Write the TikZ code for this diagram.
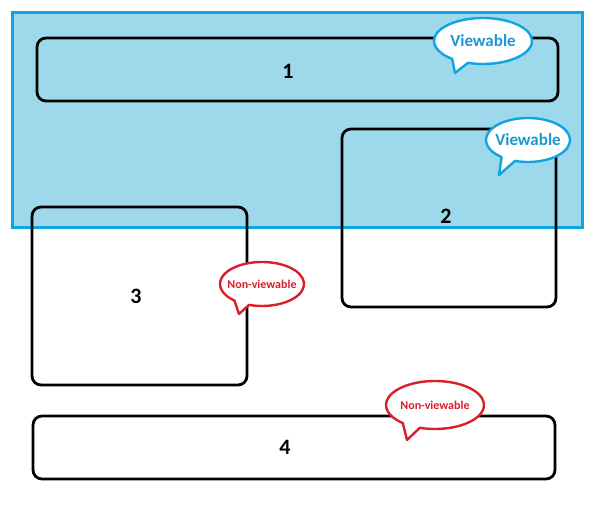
\documentclass[tikz,border=0pt]{standalone}
\usepackage{fontspec}
\setmainfont{Carlito}
\definecolor{vblue}{HTML}{0EA5E0}
\definecolor{vfill}{HTML}{9DD9EA}
\definecolor{vtext}{HTML}{1E96D2}
\definecolor{nred}{HTML}{D7202C}
\tikzset{
  panebox/.style={draw=black,line width=2.8pt,rounded corners=9pt},
  numlabel/.style={font=\bfseries\fontsize{22}{22}\selectfont},
  viewtext/.style={text=vtext,font=\bfseries\fontsize{17}{17}\selectfont},
  nontext/.style={text=nred,font=\bfseries\fontsize{12}{12}\selectfont},
  bubble/.style={fill=white,line width=2.4pt,line join=round}
}
% \mycallout{cx}{cy}{rx}{ry}{startangle}{endangle}{tipx}{tipy}{colour}
\newcommand{\mycallout}[9]{%
  \draw[bubble,draw=#9] (#1,#2) ++(#5:#3 and #4)
    arc[start angle=#5,end angle=#6,x radius=#3,y radius=#4]
    -- (#7,#8) -- cycle;}
\begin{document}
\begin{tikzpicture}[x=1pt,y=1pt]
\useasboundingbox (0,0) rectangle (595,505);
% viewport
\path[fill=vfill,draw=vblue,line width=3pt] (12,492) rectangle (582,277);
% boxes
\draw[panebox] (37,467) rectangle (558,404);
\draw[panebox] (342,376) rectangle (556,198);
\draw[panebox] (32,298) rectangle (247,120);
\draw[panebox] (33,89) rectangle (555,26);
\node[numlabel] (n1) at (288,434) {1};
\node[numlabel] (n2) at (446,289) {2};
\node[numlabel] (n3) at (136,209) {3};
\node[numlabel] (n4) at (285,58) {4};
% callouts
\mycallout{483}{464}{49}{23}{-108}{231}{455}{432}{vblue}
\node[viewtext] (c1) at (483,464) {Viewable};
\mycallout{528}{365}{42}{22}{-108}{231}{499}{330}{vblue}
\node[viewtext] (c2) at (528,365) {Viewable};
\mycallout{262}{221}{42}{22}{-108}{229}{239}{191}{nred}
\node[nontext] (c3) at (262,221) {Non-viewable};
\mycallout{435}{100}{49}{24}{-108}{229}{407}{65}{nred}
\node[nontext] (c4) at (435,100) {Non-viewable};
\end{tikzpicture}
\end{document}
